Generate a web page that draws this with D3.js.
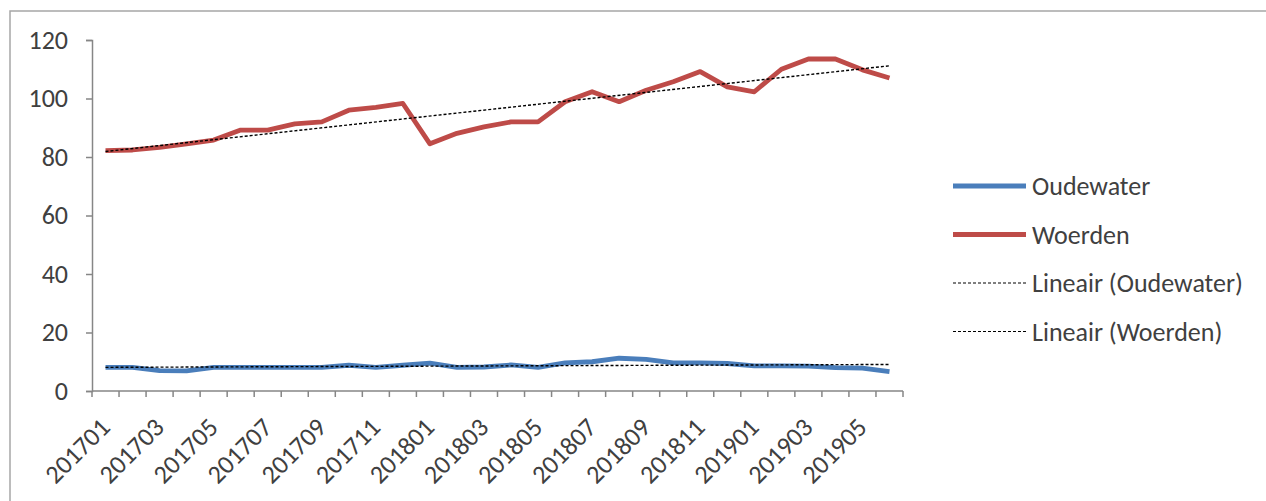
<!DOCTYPE html>
<html>
<head>
<meta charset="utf-8">
<script src="https://cdn.jsdelivr.net/npm/d3@7"></script>
<style>
  body { margin: 0; background: #fff; }
  svg text { font-family: Carlito, Lato, "Open Sans", sans-serif; fill: #404040; }
</style>
</head>
<body>
<div id="chart"></div>
<script>
// months 201701 .. 201906
const months = ['201701','201702','201703','201704','201705','201706','201707','201708','201709','201710','201711','201712',
    '201801','201802','201803','201804','201805','201806','201807','201808','201809','201810','201811','201812',
    '201901','201902','201903','201904','201905','201906']
const oudewater = [8.1, 8.1, 7.0, 6.9, 8.1, 8.1, 8.1, 8.1, 8.1, 8.8, 8.1, 8.8, 9.5, 8.1, 8.2,
    8.9, 8.1, 9.6, 10.0, 11.2, 10.8, 9.6, 9.6, 9.4, 8.6, 8.6, 8.5, 8.0, 7.8, 6.6]
const woerden = [82.2, 82.4, 83.3, 84.5, 85.8, 89.2, 89.2, 91.3, 92.0, 96.0, 97.0, 98.3, 84.5, 88.1, 90.3,
    92.0, 92.0, 98.9, 102.3, 98.9, 102.8, 105.7, 109.2, 104.0, 102.3, 110.0, 113.5, 113.5, 109.8, 107.0]
const yTicks = [0, 20, 40, 60, 80, 100, 120]
const seriesNames = ['Oudewater', 'Woerden']
const seriesColors = ['#4a7ebb', '#be4b48']

const width = 1266, height = 501
const margin = {left: 92, right: 363, top: 40, bottom: 110}
const fontSize = '26px'

const svg = d3.select('#chart').append('svg')
    .attr('width', width)
    .attr('height', height)

// chart frame, only top/left edges visible in view
svg.append('rect')
    .attr('x', 10).attr('y', 11)
    .attr('width', 1300).attr('height', 520)
    .attr('fill', '#fff')
    .attr('stroke', '#a6a6a6')
    .attr('stroke-width', 1.5)

const x = d3.scaleBand()
    .domain(months)
    .range([margin.left, width - margin.right])
    .padding(0)
const y = d3.scaleLinear()
    .domain([0, 120])
    .range([height - margin.bottom, margin.top])

// y axis
const yAxis = svg.append('g')
    .attr('transform', `translate(${margin.left},0)`)
    .call(d3.axisLeft(y).tickValues(yTicks).tickSize(6).tickPadding(18).tickFormat(d3.format('d')))
yAxis.select('.domain').attr('stroke', '#868686').attr('stroke-width', 1.5)
yAxis.selectAll('.tick line').attr('stroke', '#868686').attr('stroke-width', 1.5)
yAxis.selectAll('text').style('font-size', fontSize).attr('fill', '#404040')

// x axis: ticks between categories
const xAxisG = svg.append('g')
    .attr('transform', `translate(0,${y(0)})`)
xAxisG.append('line')
    .attr('x1', margin.left).attr('x2', width - margin.right)
    .attr('stroke', '#868686').attr('stroke-width', 1.5)
const bounds = months.map(m => x(m)).concat([x(months[months.length - 1]) + x.bandwidth()])
xAxisG.selectAll('line.tk')
    .data(bounds)
    .enter().append('line')
    .attr('class', 'tk')
    .attr('x1', d => d).attr('x2', d => d)
    .attr('y1', 0).attr('y2', 6)
    .attr('stroke', '#868686').attr('stroke-width', 1.5)
xAxisG.selectAll('text')
    .data(months.filter((m, i) => i % 2 === 0))
    .enter().append('text')
    .attr('transform', d => `translate(${x(d) + x.bandwidth() / 2 + 6},${38}) rotate(-45)`)
    .attr('text-anchor', 'end')
    .style('font-size', fontSize)
    .text(d => d)

// series lines
const line = d3.line()
    .x((d, i) => x(months[i]) + x.bandwidth() / 2)
    .y(d => y(d))

const allSeries = [oudewater, woerden]
allSeries.forEach((vals, k) => {
    svg.append('path')
        .datum(vals)
        .attr('d', line)
        .attr('fill', 'none')
        .attr('stroke', seriesColors[k])
        .attr('stroke-width', 4.8)
        .attr('stroke-linejoin', 'round')
})

// linear trendlines (least squares, like Excel)
function fitLine(vals) {
    const n = vals.length
    const xs = d3.range(1, n + 1)
    const mx = d3.mean(xs), my = d3.mean(vals)
    let sxy = 0, sxx = 0
    for (let i = 0; i < n; i++) {
        sxy += (xs[i] - mx) * (vals[i] - my)
        sxx += (xs[i] - mx) * (xs[i] - mx)
    }
    const b = sxy / sxx, a = my - b * mx
    return xs.map(v => a + b * v)
}
allSeries.forEach(vals => {
    const fit = fitLine(vals)
    svg.append('path')
        .datum([fit[0], fit[fit.length - 1]])
        .attr('d', d3.line()
            .x((d, i) => x(months[i === 0 ? 0 : months.length - 1]) + x.bandwidth() / 2)
            .y(d => y(d)))
        .attr('fill', 'none')
        .attr('stroke', '#000')
        .attr('stroke-width', 1.4)
        .attr('stroke-dasharray', '3,2')
})

// legend
const legendItems = [
    {label: 'Oudewater', color: seriesColors[0], dash: null, w: 4.8},
    {label: 'Woerden', color: seriesColors[1], dash: null, w: 4.8},
    {label: 'Lineair (Oudewater)', color: '#000', dash: '3,2', w: 1.2},
    {label: 'Lineair (Woerden)', color: '#000', dash: '3,2', w: 1.2}
]
const legend = svg.append('g')
    .attr('transform', 'translate(953,186)')
const li = legend.selectAll('g')
    .data(legendItems)
    .enter().append('g')
    .attr('transform', (d, i) => `translate(0,${i * 48.5})`)
li.append('line')
    .attr('x1', 0).attr('x2', 73)
    .attr('stroke', d => d.color)
    .attr('stroke-width', d => d.w)
    .attr('stroke-dasharray', d => d.dash)
li.append('text')
    .attr('x', 79)
    .attr('dy', '0.35em')
    .style('font-size', fontSize)
    .text(d => d.label)
</script>
</body>
</html>
